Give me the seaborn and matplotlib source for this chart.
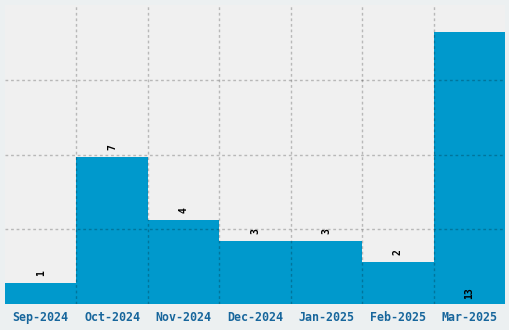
import matplotlib
matplotlib.use("Agg")
import matplotlib.pyplot as plt
import seaborn as sns
import pandas as pd

months = ["Sep-2024", "Oct-2024", "Nov-2024", "Dec-2024", "Jan-2025", "Feb-2025", "Mar-2025"]
counts = [1, 7, 4, 3, 3, 2, 13]

df = pd.DataFrame({"month": months, "count": counts})

sns.set_theme(style="white")
plt.rcParams['font.family'] = ['DejaVu Sans Mono', 'DejaVu Sans']

W, H = 510, 330
fig = plt.figure(figsize=(W / 100, H / 100), dpi=100, facecolor="#ECF0F1")
ax = fig.add_axes([5 / W, 26 / H, 500 / W, 299 / H])
ax.set_facecolor("#F0F0F0")

sns.barplot(data=df, x="month", y="count", color="#0099CC", width=1.0,
            saturation=1, edgecolor="none", linewidth=0, ax=ax, zorder=1)

ymax = 14.27
ax.set_ylim(0, ymax)
ax.set_xlim(-0.5, len(months) - 0.5)
ax.set_yticks([ymax * i / 4 for i in range(1, 4)])
ax.set_yticklabels([])
ax.set_xticks(range(len(months)))
ax.set_xticklabels(months, fontsize=8.4, fontweight="bold", color="#17669C")
ax.tick_params(axis="x", length=0, pad=5)
ax.tick_params(axis="y", length=0)
ax.set_xlabel("")
ax.set_ylabel("")

for i in range(1, len(months)):
    ax.axvline(i - 0.5, color="black", alpha=0.23, linestyle=(0, (2, 2)), linewidth=1, zorder=3)
for yt in ax.get_yticks():
    ax.axhline(yt, color="black", alpha=0.23, linestyle=(0, (2, 2)), linewidth=1, zorder=3)

for s in ax.spines.values():
    s.set_visible(False)

max_v = max(counts)
for i, v in enumerate(counts):
    if v == max_v:
        ax.text(i, 0.25, str(v), rotation=90, ha="center", va="bottom",
                fontsize=7, fontweight="bold", color="black", zorder=4)
    else:
        ax.text(i, v + 0.33, str(v), rotation=90, ha="center", va="bottom",
                fontsize=7, fontweight="bold", color="black", zorder=4)

fig.savefig("out.png", dpi=100, facecolor=fig.get_facecolor())
